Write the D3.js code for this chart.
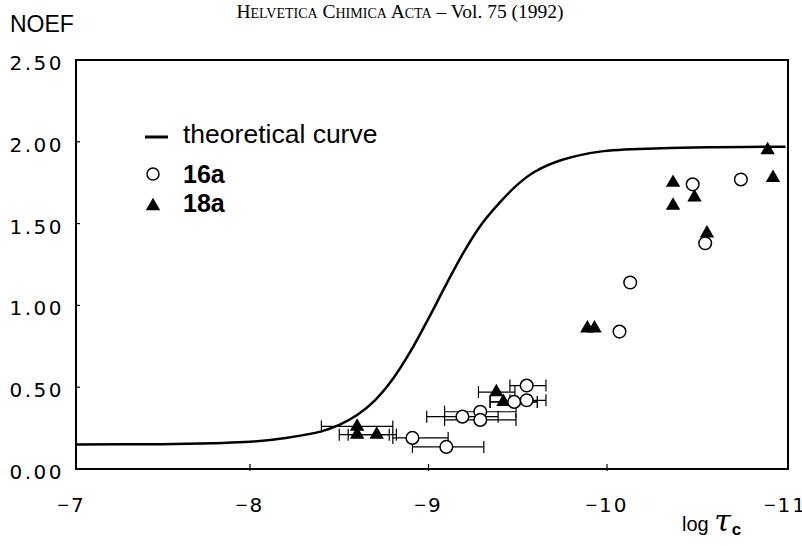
<!DOCTYPE html>
<html>
<head>
<meta charset="utf-8">
<script src="https://cdn.jsdelivr.net/npm/d3@7"></script>
<style>
  body { margin: 0; background: #fff; }
  svg { display: block; }
</style>
</head>
<body>
<div class="chart"></div>
<script>
// theoretical curve (log tau_c, NOEF)
var curveX = [-7.0, -7.5, -7.8, -8.0, -8.2, -8.4, -8.5, -8.6, -8.7, -8.8, -8.9, -9.0, -9.1, -9.2, -9.3, -9.4, -9.5, -9.6, -9.75, -9.96, -10.3, -10.6, -11.0];
var curveY = [0.15, 0.152, 0.158, 0.166, 0.19, 0.23, 0.27, 0.33, 0.42, 0.55, 0.72, 0.92, 1.13, 1.33, 1.50, 1.63, 1.74, 1.82, 1.89, 1.94, 1.96, 1.967, 1.97];

// 16a (open circles)
var circleX = [-8.91, -9.10, -9.19, -9.29, -9.29, -9.48, -9.55, -9.55, -10.07, -10.13, -10.48, -10.55, -10.75];
var circleY = [0.19, 0.135, 0.32, 0.35, 0.30, 0.41, 0.51, 0.42, 0.84, 1.14, 1.74, 1.38, 1.77];
var circleErrLo = [-8.80, -8.91, -8.99, -9.09, -9.09, -9.345, -9.456, -9.456, null, null, null, null, null];
var circleErrHi = [-9.11, -9.31, -9.39, -9.49, -9.49, -9.61, -9.658, -9.658, null, null, null, null, null];

// 18a (filled triangles)
var triX = [-8.60, -8.60, -8.71, -9.38, -9.42, -9.89, -9.93, -10.37, -10.37, -10.49, -10.56, -10.90, -10.93];
var triY = [0.26, 0.21, 0.21, 0.47, 0.41, 0.86, 0.86, 1.75, 1.61, 1.66, 1.44, 1.95, 1.78];
var triErrLo = [-8.40, -8.50, -8.55, -9.28, -9.345, null, null, null, null, null, null, null, null];
var triErrHi = [-8.80, -8.78, -8.82, -9.484, -9.61, null, null, null, null, null, null, null, null];

var xTicks = [-7, -8, -9, -10, -11];
var yTicks = [0, 0.5, 1, 1.5, 2, 2.5];

var W = 802, H = 546;
var frame = { left: 76, right: 788, top: 60, bottom: 469 };

var svg = d3.select('.chart')
    .append('svg')
    .attr('width', W)
    .attr('height', H);

var xScale = d3.scaleLinear()
    .domain([-7, -11])
    .range([71.5, 785.5]);

var yScale = d3.scaleLinear()
    .domain([0, 2.5])
    .range([frame.bottom, frame.top]);

svg.append('clipPath')
    .attr('id', 'clip')
    .append('rect')
    .attr('x', frame.left)
    .attr('y', frame.top)
    .attr('width', frame.right - frame.left)
    .attr('height', frame.bottom - frame.top);

// header line
svg.append('text')
    .attr('x', 400)
    .attr('y', 18)
    .attr('text-anchor', 'middle')
    .style('font-family', '"Liberation Serif", "Times New Roman", serif')
    .style('font-size', '19.5px')
    .html('<tspan style="font-variant: small-caps">Helvetica Chimica Acta</tspan> – Vol. 75 (1992)');

// frame
svg.append('rect')
    .attr('x', frame.left)
    .attr('y', frame.top)
    .attr('width', frame.right - frame.left)
    .attr('height', frame.bottom - frame.top)
    .attr('fill', 'none')
    .attr('stroke', '#000')
    .attr('stroke-width', 2);

// inward ticks
svg.selectAll('.xtick')
    .data(xTicks.slice(1, -1))
    .enter()
    .append('line')
    .attr('x1', d => xScale(d))
    .attr('x2', d => xScale(d))
    .attr('y1', frame.bottom + 2)
    .attr('y2', frame.bottom - 5)
    .attr('stroke', '#000')
    .attr('stroke-width', 1.2);

svg.selectAll('.ytick')
    .data(yTicks.slice(1, -1))
    .enter()
    .append('line')
    .attr('x1', frame.left)
    .attr('x2', frame.left + 4)
    .attr('y1', d => yScale(d))
    .attr('y2', d => yScale(d))
    .attr('stroke', '#000')
    .attr('stroke-width', 1.2);

var sansFont = '"Liberation Sans", Arial, sans-serif';
var tickFont = '"DejaVu Sans", sans-serif';

var xl = svg.selectAll('.xlabel')
    .data(xTicks)
    .enter()
    .append('text')
    .attr('x', d => xScale(d))
    .attr('y', 512)
    .attr('text-anchor', 'middle')
    .style('font-family', tickFont)
    .style('font-size', '20px')
    .style('letter-spacing', '2px');
xl.append('tspan')
    .style('font-family', sansFont)
    .text('\u2212');
xl.append('tspan')
    .text(d => Math.abs(d));

svg.selectAll('.ylabel')
    .data(yTicks)
    .enter()
    .append('text')
    .attr('x', 64)
    .attr('y', d => yScale(d) + 10)
    .attr('text-anchor', 'end')
    .style('font-family', tickFont)
    .style('font-size', '20px')
    .style('letter-spacing', '2.5px')
    .text(d => d.toFixed(2));

// axis titles
svg.append('text')
    .attr('x', 10)
    .attr('y', 32)
    .style('font-family', sansFont)
    .style('font-size', '23px')
    .text('NOEF');

var xt = svg.append('text')
    .attr('x', 682)
    .attr('y', 531)
    .style('font-family', sansFont)
    .style('font-size', '20px');
xt.append('tspan').text('log ');
xt.append('tspan')
    .style('font-family', '"DejaVu Serif", serif')
    .style('font-style', 'italic')
    .style('font-size', '30px')
    .text('\u03c4');
xt.append('tspan')
    .attr('dy', 4)
    .attr('dx', 1)
    .style('font-size', '17px')
    .style('font-weight', 'bold')
    .text('c');

// theoretical curve
var curvePts = curveX.map((x, i) => [x, curveY[i]]);
var line = d3.line()
    .x(d => xScale(d[0]))
    .y(d => yScale(d[1]))
    .curve(d3.curveCatmullRom.alpha(0.5));

svg.append('path')
    .datum(curvePts)
    .attr('clip-path', 'url(#clip)')
    .attr('d', line)
    .attr('fill', 'none')
    .attr('stroke', '#000')
    .attr('stroke-width', 2.5);

// error bars
function drawErrors(xs, ys, lo, hi) {
    var g = svg.append('g')
        .attr('stroke', '#000')
        .attr('stroke-width', 1.2);
    xs.forEach(function (x, i) {
        if (lo[i] == null) return;
        var y = yScale(ys[i]);
        g.append('line')
            .attr('x1', xScale(lo[i])).attr('x2', xScale(hi[i]))
            .attr('y1', y).attr('y2', y);
        [lo[i], hi[i]].forEach(function (e) {
            g.append('line')
                .attr('x1', xScale(e)).attr('x2', xScale(e))
                .attr('y1', y - 6).attr('y2', y + 6);
        });
    });
}
drawErrors(circleX, circleY, circleErrLo, circleErrHi);
drawErrors(triX, triY, triErrLo, triErrHi);

var tri = d3.symbol().type(d3.symbolTriangle).size(90);

svg.append('g')
    .selectAll('path')
    .data(triX.map((x, i) => [x, triY[i]]))
    .enter()
    .append('path')
    .attr('transform', d => 'translate(' + xScale(d[0]) + ',' + yScale(d[1]) + ')')
    .attr('d', tri)
    .attr('fill', '#000');

svg.append('g')
    .selectAll('circle')
    .data(circleX.map((x, i) => [x, circleY[i]]))
    .enter()
    .append('circle')
    .attr('cx', d => xScale(d[0]))
    .attr('cy', d => yScale(d[1]))
    .attr('r', 6.3)
    .attr('fill', '#fff')
    .attr('stroke', '#000')
    .attr('stroke-width', 1.5);

// legend
svg.append('line')
    .attr('x1', 145).attr('x2', 168)
    .attr('y1', 137).attr('y2', 137)
    .attr('stroke', '#000')
    .attr('stroke-width', 3);
svg.append('text')
    .attr('x', 183).attr('y', 143)
    .style('font-family', sansFont)
    .style('font-size', '26.5px')
    .text('theoretical curve');

svg.append('circle')
    .attr('cx', 153).attr('cy', 174)
    .attr('r', 6)
    .attr('fill', '#fff')
    .attr('stroke', '#000')
    .attr('stroke-width', 1.5);
svg.append('text')
    .attr('x', 183).attr('y', 183)
    .style('font-family', sansFont)
    .style('font-size', '25px')
    .style('font-weight', 'bold')
    .text('16a');

svg.append('path')
    .attr('transform', 'translate(153,206)')
    .attr('d', tri)
    .attr('fill', '#000');
svg.append('text')
    .attr('x', 183).attr('y', 212)
    .style('font-family', sansFont)
    .style('font-size', '25px')
    .style('font-weight', 'bold')
    .text('18a');
</script>
</body>
</html>
